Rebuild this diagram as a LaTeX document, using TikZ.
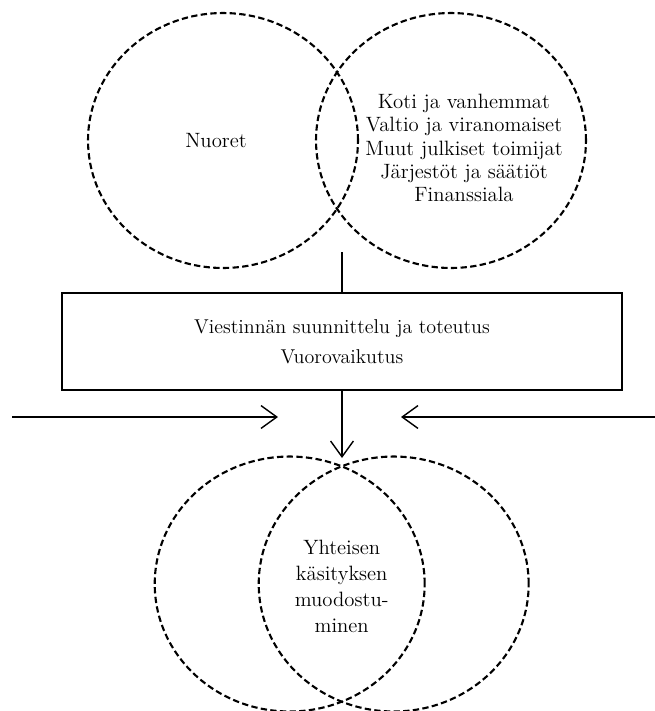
\documentclass[tikz,border=0pt]{standalone}
\usetikzlibrary{shapes.geometric,arrows.meta}
\begin{document}
\begin{tikzpicture}[x=0.02cm,y=-0.02cm,
  ring/.style={draw,ellipse,line width=1.2pt,dash pattern=on 3.6pt off 1.9pt,
    minimum width=5.4cm,minimum height=5.1cm,inner sep=0pt},
  label/.style={align=center,font=\fontsize{11.8}{13.3}\selectfont},
  lowlabel/.style={align=center,font=\fontsize{11.8}{14.8}\selectfont},
  panel/.style={draw,line width=1.3pt,minimum width=11.2cm,minimum height=1.94cm,
    align=center,font=\fontsize{11.4}{17}\selectfont},
  flow/.style={line width=0.8pt,-{Straight Barb[length=9pt,width=13pt,line width=0.8pt]}}]
\useasboundingbox (0,0) rectangle (655,711);
% upper pair of circles
\node[ring] (young) at (223,140.5) {};
\node[ring] (actors) at (451,140.5) {};
\node[label] at (216,141) {Nuoret};
\node[label] at (464,148) {Koti ja vanhemmat\\Valtio ja viranomaiset\\Muut julkiset toimijat\\Järjestöt ja säätiöt\\Finanssiala};
% planning box
\node[panel] (plan) at (342,341.5) {Viestinnän suunnittelu ja toteutus\\Vuorovaikutus};
\coordinate (stem) at (342,252);
\draw[line width=0.8pt] (stem) -- (plan.north -| stem);
% lower pair of circles
\node[ring] (low1) at (289.7,584) {};
\node[ring] (low2) at (393.7,584) {};
\node[lowlabel] at (341.7,586) {Yhteisen\\käsityksen\\muodostu-\\minen};
% arrows
\coordinate (lin) at (12,417);
\coordinate (lout) at (278,417);
\coordinate (rin) at (655,417);
\coordinate (rout) at (401,417);
\coordinate (tip) at (342,458);
\draw[flow] (lin) -- (lout);
\draw[flow] (rin) -- (rout);
\draw[flow] (plan.south -| tip) -- (tip);
\end{tikzpicture}
\end{document}
